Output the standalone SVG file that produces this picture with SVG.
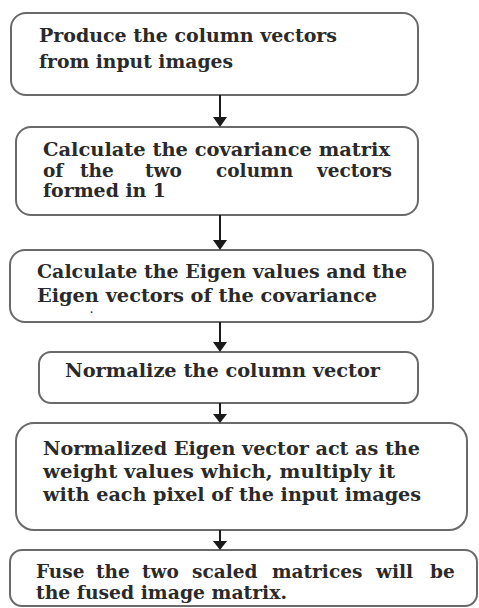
<svg xmlns="http://www.w3.org/2000/svg" width="479" height="608" viewBox="0 0 479 608">
<style>
.box{fill:#fff;stroke:#6a6a6a;stroke-width:2}
.t{font-family:"DejaVu Serif","Liberation Serif",serif;font-size:18.5px;font-weight:bold;fill:#2a2a2a}
.conn line{stroke:#1a1a1a;stroke-width:2}
.conn polygon{fill:#1a1a1a}
</style>
<rect width="479" height="608" fill="#fff"/>
<g id="n1">
<rect class="box" x="11" y="13" width="407" height="82" rx="15"/>
<text class="t" x="39" y="42" textLength="298" lengthAdjust="spacingAndGlyphs">Produce the column vectors</text>
<text class="t" x="39" y="68" textLength="194" lengthAdjust="spacingAndGlyphs">from input images</text>
</g>
<g id="n2">
<rect class="box" x="16" y="127" width="402" height="88" rx="15"/>
<text class="t" x="43" y="156" textLength="347" lengthAdjust="spacingAndGlyphs">Calculate the covariance matrix</text>
<text class="t" y="177"><tspan x="43">of</tspan><tspan x="80">the</tspan><tspan x="145">two</tspan><tspan x="216">column</tspan><tspan x="317">vectors</tspan></text>
<text class="t" x="43" y="197" textLength="123" lengthAdjust="spacingAndGlyphs">formed in 1</text>
</g>
<g id="n3">
<rect class="box" x="10" y="250" width="423" height="72" rx="15"/>
<text class="t" x="37" y="278" textLength="370" lengthAdjust="spacingAndGlyphs">Calculate the Eigen  values and the</text>
<text class="t" x="37" y="302" textLength="340" lengthAdjust="spacingAndGlyphs">Eigen vectors of the covariance</text>
<text class="t" x="90" y="313" style="font-size:9px">.</text>
</g>
<g id="n4">
<rect class="box" x="39" y="352" width="379" height="51" rx="12"/>
<text class="t" x="65" y="377" textLength="315" lengthAdjust="spacingAndGlyphs">Normalize the column vector</text>
</g>
<g id="n5">
<rect class="box" x="16" y="423" width="451" height="107" rx="18"/>
<text class="t" x="43" y="455" textLength="377" lengthAdjust="spacingAndGlyphs">Normalized Eigen  vector act as the</text>
<text class="t" x="43" y="478" textLength="352" lengthAdjust="spacingAndGlyphs">weight values which, multiply it</text>
<text class="t" x="43" y="501" textLength="378" lengthAdjust="spacingAndGlyphs">with each pixel of the input images</text>
</g>
<g id="n6">
<rect class="box" x="10" y="550" width="467" height="56" rx="12"/>
<text class="t" y="578"><tspan x="36">Fuse</tspan><tspan x="96">the</tspan><tspan x="142">two</tspan><tspan x="192">scaled</tspan><tspan x="272">matrices</tspan><tspan x="376">will</tspan><tspan x="430">be</tspan></text>
<text class="t" x="36" y="599" textLength="251" lengthAdjust="spacingAndGlyphs">the fused image matrix.</text>
</g>
<g id="connectors" class="conn">
<line x1="220" y1="95" x2="220" y2="118"/><polygon points="213,117 227,117 220,127"/>
<line x1="220" y1="215" x2="220" y2="241"/><polygon points="213,240 227,240 220,250"/>
<line x1="220" y1="322" x2="220" y2="343"/><polygon points="213,342 227,342 220,352"/>
<line x1="220" y1="403" x2="220" y2="415"/><polygon points="213,414 227,414 220,423"/>
<line x1="220" y1="530" x2="220" y2="542"/><polygon points="213,541 227,541 220,550"/>
</g>
</svg>
